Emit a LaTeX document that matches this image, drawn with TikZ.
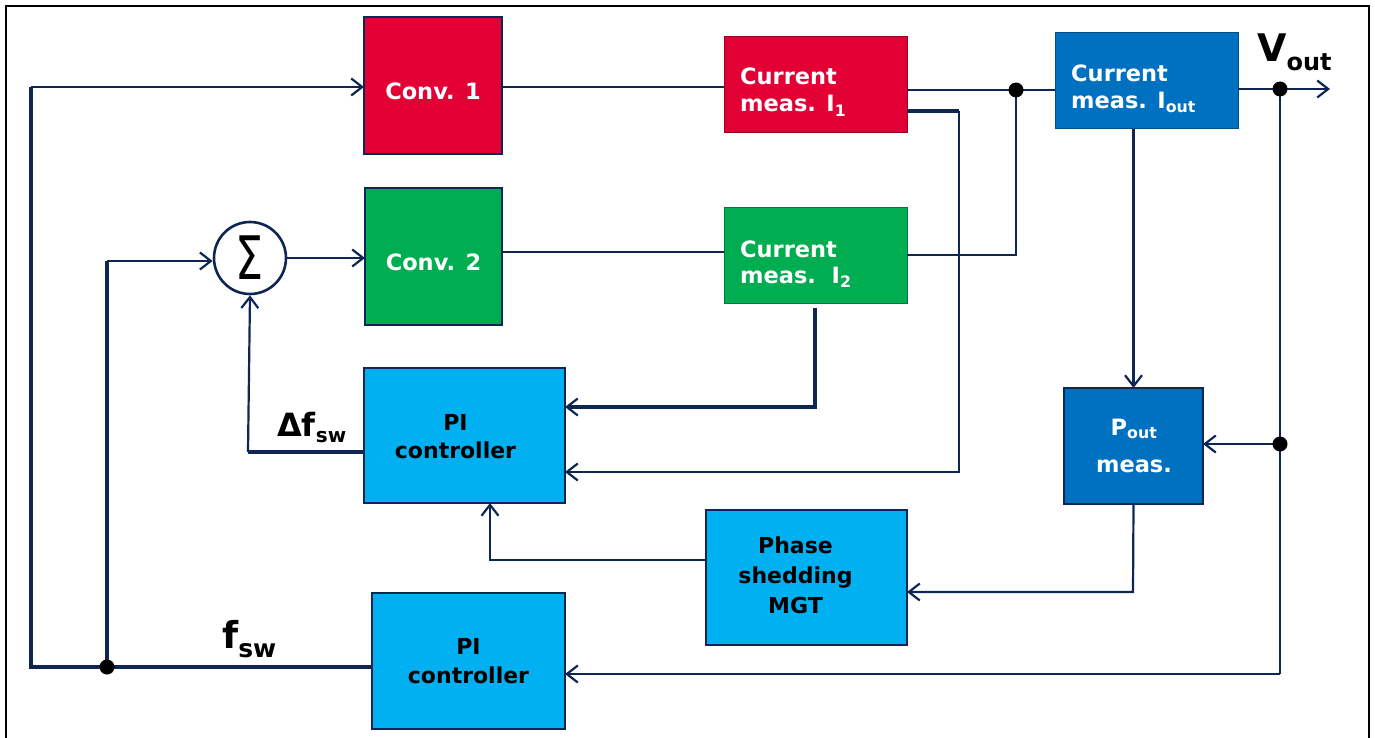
\documentclass[tikz,border=0pt]{standalone}
\usepackage{fontspec}
\setmainfont{DejaVu Sans}
\usetikzlibrary{arrows.meta,calc}
\definecolor{navy}{RGB}{14,38,84}
\definecolor{cred}{RGB}{227,0,52}
\definecolor{cgreen}{RGB}{0,173,80}
\definecolor{cblue}{RGB}{0,112,192}
\definecolor{clblue}{RGB}{0,176,240}
\tikzset{
  x=1pt, y=-1pt,
  blk/.style={draw=navy, line width=2.8pt, inner sep=0pt, outer sep=0pt},
  thinblk/.style={line width=1pt, inner sep=0pt, outer sep=0pt},
  wtext/.style={text=white, font=\bfseries\fontsize{22.5}{27}\selectfont, inner sep=0pt},
  ktext/.style={text=black, font=\bfseries\fontsize{22}{28.5}\selectfont, align=center, inner sep=0pt},
  thn/.style={draw=navy, line width=2.2pt},
  thk/.style={draw=navy, line width=3.6pt},
  arr/.style={-{Straight Barb[length=11pt,width=17pt,line width=2.2pt]}},
  dot/.style={circle, fill=black, minimum size=15pt, inner sep=0pt},
}
\begin{document}
\begin{tikzpicture}
\useasboundingbox (0,0) rectangle (1375,738);
% frame
\draw[black, line width=2.5pt] (6,738) -- (6,6) -- (1369,6) -- (1369,738);

% blocks
\node[blk, fill=cred, minimum width=138pt, minimum height=137pt] (c1) at (433,85.5) {};
\node[blk, fill=cgreen, minimum width=137pt, minimum height=137pt] (c2) at (433.5,256.5) {};
\node[thinblk, draw=cred!70!black, fill=cred, minimum width=183pt, minimum height=96pt] (i1) at (815.5,85) {};
\node[thinblk, draw=cgreen!70!black, fill=cgreen, minimum width=183pt, minimum height=96pt] (i2) at (815.5,255) {};
\node[thinblk, draw=cblue!70!black, fill=cblue, minimum width=183pt, minimum height=96pt] (iout) at (1146.5,81) {};
\node[blk, fill=cblue, minimum width=139pt, minimum height=116pt] (pout) at (1133.5,446) {};
\node[blk, fill=clblue, minimum width=201pt, minimum height=135pt] (pi1) at (464.5,435.5) {};
\node[blk, fill=clblue, minimum width=201pt, minimum height=135pt] (ph) at (806.5,577.5) {};
\node[blk, fill=clblue, minimum width=193pt, minimum height=136pt] (pi2) at (468.5,661) {};
\node[circle, draw=navy, line width=2.6pt, fill=white, minimum size=72pt, inner sep=0pt] (sum) at (250,258) {\fontsize{60}{60}\selectfont\scalebox{0.74}[1]{Σ}};

% block texts
\node[wtext] (c1t) at ($(c1)+(0,6)$) {Conv. 1};
\node[wtext] (c2t) at ($(c2)+(0,6)$) {Conv. 2};
\node[wtext, anchor=base west] (i1t) at (740,85) {Current};
\node[wtext, anchor=base west] (i1u) at (740,112) {meas. I\textsubscript{1}};
\node[wtext, anchor=base west] (i2t) at (740,257) {Current};
\node[wtext, anchor=base west] (i2u) at (740,283) {meas.\ \ I\textsubscript{2}};
\node[wtext, anchor=base west] (iot) at (1071,82) {Current};
\node[wtext, anchor=base west] (iou) at (1071,109) {meas. I\textsubscript{out}};
\node[wtext, anchor=base] (pot) at (1134,435) {P\textsubscript{out}};
\node[wtext, anchor=base] (pou) at (1134,472) {meas.};
\node[ktext] (pi1t) at ($(pi1)+(-9,1)$) {PI\\controller};
\node[ktext, font=\bfseries\fontsize{22}{30}\selectfont] (pht) at ($(ph)+(-11,-2)$) {Phase\\shedding\\MGT};
\node[ktext] (pi2t) at ($(pi2)+(0,0)$) {PI\\controller};

% labels
\node[anchor=base west, inner sep=0pt] (vout) at (1257,62) {\bfseries\fontsize{38}{38}\selectfont V\raisebox{-9pt}{\fontsize{24}{24}\selectfont out}};
\node[anchor=base west, inner sep=0pt] (dfsw) at (277,436) {\bfseries\fontsize{32}{32}\selectfont Δf\raisebox{-6pt}{\fontsize{20}{20}\selectfont sw}};
\node[anchor=base west, inner sep=0pt] (fsw) at (222,648) {\bfseries\fontsize{37}{37}\selectfont f\raisebox{-9pt}{\fontsize{25}{25}\selectfont sw}};

% coordinates
\coordinate (ltop) at (31,87);
\coordinate (lbot) at (31,667);
\coordinate (jf) at (107,667);
\coordinate (jup) at (107,261);
\coordinate (dfc) at (248,452);
\coordinate (j1) at (1016,90);
\coordinate (k1) at (959,111);
\coordinate (k2) at (959,472);
\coordinate (m0) at (815,308);
\coordinate (m1) at (815,407);
\coordinate (vo) at (1280,89);
\coordinate (vend) at (1330,89);
\coordinate (pd) at (1280,444);
\coordinate (vb) at (1280,674);
\coordinate (q) at (1133,592);
\coordinate (r) at (490,560);

% connectors
\draw[thk] (jf -| pi2.west) -- (jf) -- (lbot) -- (ltop);
\draw[thn, arr] (ltop) -- (ltop -| c1.west);
\draw[thk] (jf) -- (jup);
\draw[thn, arr] (jup) -- (jup -| sum.west);
\draw[thn, arr] (sum.east) -- (sum.east -| c2.west);
\draw[thk] (pi1.west |- dfc) -- (dfc);
\draw[thn, arr] (dfc) -- (sum.south);
\draw[thn] (c1.east |- 0,87) -- (i1.west |- 0,87);
\draw[thn] (c2.east |- 0,252) -- (i2.west |- 0,252);
\draw[thn] (i1.east |- j1) -- (j1) -- (j1 -| iout.west);
\draw[thn] (i2.east) -- (i2.east -| j1) -- (j1);
\draw[thk] (i1.east |- k1) -- (k1);
\draw[thn, arr] (k1) -- (k2) -- (k2 -| pi1.east);
\draw[thk, arr] (m0) -- (m1) -- (m1 -| pi1.east);
\draw[thn, arr] (iout.east |- vo) -- (vend);
\draw[thn] (vo) -- (vb);
\draw[thn, arr] (vb) -- (vb -| pi2.east);
\draw[thn, arr] (pd) -- (pd -| pout.east);
\draw[thn, arr] (pout.north |- iout.south) -- (pout.north);
\draw[thn, arr] (pout.south) -- (q) -- (q -| ph.east);
\draw[thn, arr] (ph.west |- r) -- (r) -- (r |- pi1.south);

% junction dots
\node[dot] (d1) at (j1) {};
\node[dot] (d2) at (vo) {};
\node[dot] (d3) at (pd) {};
\node[dot] (d4) at (jf) {};
\end{tikzpicture}
\end{document}
